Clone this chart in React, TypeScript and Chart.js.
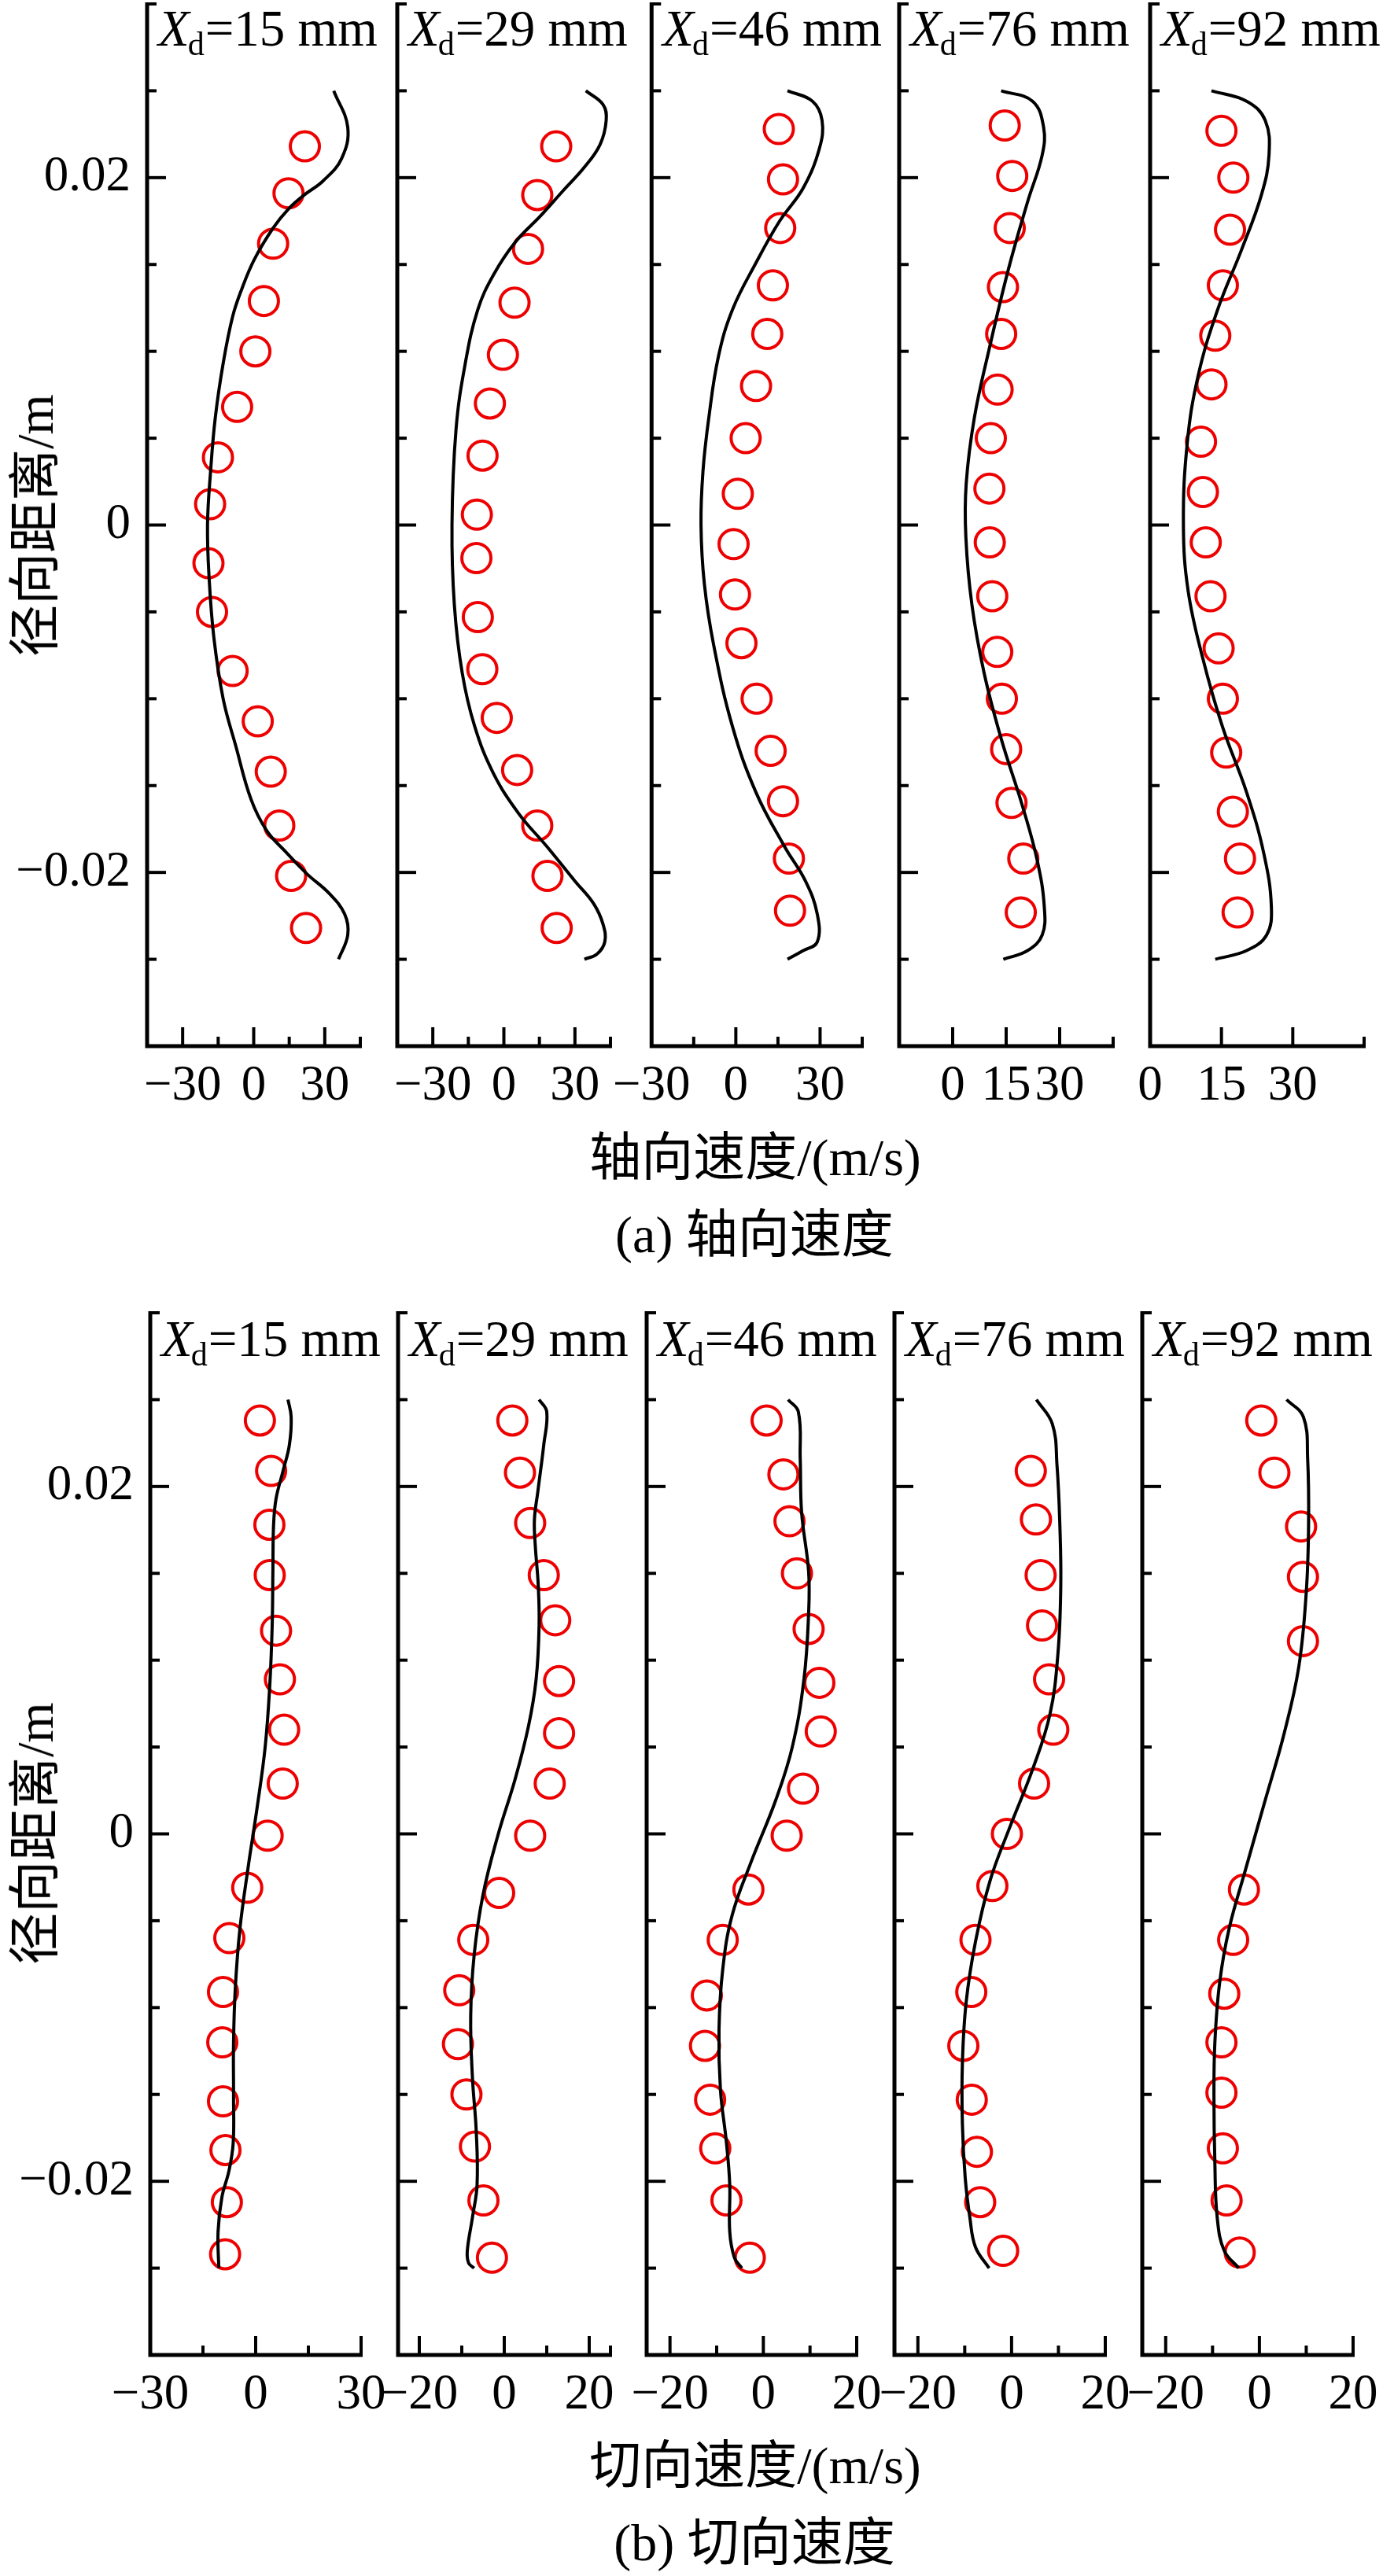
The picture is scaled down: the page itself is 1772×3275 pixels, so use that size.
import React, { useEffect, useRef } from 'react';
import { Chart, registerables } from 'chart.js';

Chart.register(...registerables);

// ---------------- data ----------------
const stations = [15, 29, 46, 76, 92];
const radialRange = [-0.03, 0.03];
const radialStep = 0.005;
const radialLabeled = [-0.02, 0, 0.02];

const axialRanges = [[-45, 45], [-45, 45], [-30, 45], [-15, 45], [0, 45]];
const axialSteps = [15, 15, 15, 15, 15];
const axialLabeled = [[-30, 0, 30], [-30, 0, 30], [-30, 0, 30], [0, 15, 30], [0, 15, 30]];
const tangRanges = [[-30, 30], [-25, 25], [-25, 20], [-25, 20], [-25, 20]];
const tangSteps = [15, 10, 10, 10, 10];
const tangLabeled = [[-30, 0, 30], [-20, 0, 20], [-20, 0, 20], [-20, 0, 20], [-20, 0, 20]];

// (a) axial velocity — experiment (circles)
const axExpY15 = [0.0218, 0.0191, 0.0162, 0.0129, 0.0100, 0.0068, 0.0039, 0.0012, -0.0022, -0.0050, -0.0084, -0.0113, -0.0142, -0.0173, -0.0202, -0.0232];
const axExpV15 = [21.6, 14.7, 8.2, 4.3, 0.7, -7.0, -15.1, -18.4, -19.1, -17.6, -8.9, 1.7, 7.2, 10.8, 15.8, 22.1];
const axExpY29 = [0.0218, 0.0190, 0.0159, 0.0128, 0.0098, 0.0070, 0.0040, 0.0006, -0.0019, -0.0053, -0.0083, -0.0111, -0.0141, -0.0173, -0.0202, -0.0232];
const axExpV29 = [22.1, 14.1, 10.2, 4.5, -0.4, -5.9, -9.0, -11.4, -11.6, -11.0, -9.1, -3.0, 5.6, 14.1, 18.4, 22.3];
const axExpY46 = [0.0228, 0.0199, 0.0171, 0.0138, 0.0110, 0.0080, 0.0050, 0.0018, -0.0011, -0.0040, -0.0068, -0.0100, -0.0130, -0.0159, -0.0192, -0.0222];
const axExpV46 = [15.3, 16.8, 15.8, 13.2, 11.2, 7.2, 3.5, 0.7, -0.8, -0.3, 2.0, 7.4, 12.4, 16.8, 18.9, 19.3];
const axExpY76 = [0.0230, 0.0201, 0.0171, 0.0137, 0.0110, 0.0078, 0.0050, 0.0021, -0.0010, -0.0041, -0.0073, -0.0100, -0.0129, -0.0160, -0.0192, -0.0223];
const axExpV76 = [14.6, 16.7, 16.0, 14.1, 13.6, 12.6, 10.7, 10.3, 10.4, 11.1, 12.5, 13.8, 15.0, 16.5, 19.8, 19.1];
const axExpY92 = [0.0227, 0.0200, 0.0170, 0.0138, 0.0109, 0.0081, 0.0048, 0.0019, -0.0010, -0.0041, -0.0071, -0.0100, -0.0131, -0.0165, -0.0192, -0.0223];
const axExpV92 = [15.0, 17.5, 16.8, 15.3, 13.7, 12.9, 10.7, 11.1, 11.7, 12.7, 14.4, 15.3, 16.0, 17.4, 18.9, 18.4];

// (a) axial velocity — simulation (line)
const axSimY15 = [0.025, 0.0229, 0.0211, 0.0198, 0.0190, 0.0182, 0.0171, 0.0153, 0.0136, 0.0120, 0.0093, 0.0062, 0.0031, 0, -0.0031, -0.0065, -0.0100, -0.0127, -0.0158, -0.0176, -0.0188, -0.0201, -0.0212, -0.0224, -0.0236, -0.025];
const axSimV15 = [33.8, 39.7, 37.1, 29.2, 21.3, 14.7, 8.2, 0.3, -5.0, -8.9, -12.9, -16.2, -18.2, -19.5, -18.8, -16.8, -12.9, -7.6, -1.1, 5.5, 13.4, 22.6, 31.8, 38.4, 39.7, 35.8];
const axSimY29 = [0.025, 0.0242, 0.0233, 0.0219, 0.0206, 0.0192, 0.0178, 0.0163, 0.0144, 0.0124, 0.0093, 0.0055, 0, -0.0046, -0.0085, -0.0116, -0.0143, -0.0166, -0.0185, -0.0205, -0.0218, -0.0230, -0.0240, -0.0247, -0.025];
const axSimV29 = [34.6, 41.9, 43.2, 40.6, 34.0, 24.7, 15.5, 4.9, -4.4, -11.0, -16.3, -20.2, -21.9, -20.9, -17.6, -12.3, -4.4, 6.2, 18.1, 30.0, 37.9, 41.9, 42.6, 39.3, 34.0];
const axSimY46 = [0.025, 0.0244, 0.0233, 0.0217, 0.0194, 0.0175, 0.0151, 0.0124, 0.0097, 0.0062, 0.0031, 0, -0.0034, -0.0069, -0.0116, -0.0154, -0.0185, -0.0205, -0.0224, -0.0240, -0.0245, -0.025];
const axSimV46 = [18.4, 27.3, 30.7, 29.8, 24.0, 15.6, 7.2, -1.2, -6.2, -9.6, -11.7, -12.4, -11.2, -7.9, -1.2, 7.2, 17.3, 24.8, 29.0, 29.0, 24.0, 18.4];
const axSimY76 = [0.025, 0.0244, 0.0229, 0.0213, 0.0186, 0.0147, 0.0101, 0.0062, 0.0024, -0.0007, -0.0046, -0.0085, -0.0123, -0.0162, -0.0193, -0.0220, -0.0236, -0.0245, -0.025];
const axSimV76 = [13.6, 22.4, 25.5, 25.1, 21.0, 15.6, 10.2, 6.1, 3.8, 3.7, 5.4, 8.8, 13.6, 19.6, 23.7, 25.7, 25.1, 21.0, 14.2];
const axSimY92 = [0.025, 0.0244, 0.0233, 0.0213, 0.0190, 0.0159, 0.0124, 0.0086, 0.0047, 0, -0.0038, -0.0077, -0.0116, -0.0154, -0.0189, -0.0220, -0.0236, -0.0245, -0.025];
const axSimV92 = [12.9, 20.3, 24.2, 25.0, 23.4, 19.3, 14.2, 10.1, 7.8, 7.0, 8.0, 11.1, 15.2, 20.3, 23.9, 25.5, 24.5, 20.3, 13.7];

// (b) tangential velocity — experiment (circles)
const tgExpY15 = [0.0238, 0.0209, 0.0178, 0.0149, 0.0117, 0.0089, 0.0060, 0.0029, -0.0001, -0.0031, -0.0060, -0.0091, -0.0120, -0.0154, -0.0182, -0.0212, -0.0242];
const tgExpV15 = [1.2, 4.4, 3.9, 4.0, 5.8, 6.9, 8.1, 7.7, 3.4, -2.4, -7.5, -9.3, -9.5, -9.3, -8.6, -8.2, -8.7];
const tgExpY29 = [0.0238, 0.0208, 0.0179, 0.0149, 0.0123, 0.0088, 0.0058, 0.0029, -0.0001, -0.0034, -0.0061, -0.0090, -0.0121, -0.0150, -0.0180, -0.0211, -0.0244];
const tgExpV29 = [1.9, 3.7, 6.1, 9.3, 12.0, 12.9, 12.9, 10.7, 6.1, -1.2, -7.3, -10.6, -10.9, -8.9, -6.9, -4.9, -2.9];
const tgExpY46 = [0.0238, 0.0207, 0.0180, 0.0150, 0.0118, 0.0087, 0.0059, 0.0026, -0.0001, -0.0032, -0.0061, -0.0093, -0.0122, -0.0153, -0.0181, -0.0211, -0.0244];
const tgExpV46 = [0.7, 4.3, 5.6, 7.2, 9.7, 12.0, 12.3, 8.5, 5.0, -3.2, -8.7, -12.1, -12.5, -11.4, -10.3, -7.9, -2.9];
const tgExpY76 = [0.0209, 0.0181, 0.0149, 0.0120, 0.0089, 0.0060, 0.0029, 0, -0.0030, -0.0061, -0.0091, -0.0122, -0.0153, -0.0183, -0.0212, -0.0240];
const tgExpV76 = [4.1, 5.2, 6.2, 6.5, 8.0, 8.9, 4.8, -1.0, -4.1, -7.7, -8.6, -10.3, -8.5, -7.4, -6.7, -1.8];
const tgExpY92 = [0.0238, 0.0208, 0.0177, 0.0148, 0.0111, -0.0032, -0.0061, -0.0092, -0.0120, -0.0149, -0.0181, -0.0211, -0.0241];
const tgExpV92 = [0.4, 3.2, 8.9, 9.3, 9.3, -3.3, -5.6, -7.5, -8.1, -8.1, -7.8, -7.0, -4.2];

// (b) tangential velocity — simulation (line)
const tgSimY15 = [0.025, 0.024, 0.0224, 0.0209, 0.0193, 0.0178, 0.0151, 0.0120, 0.0085, 0.0050, 0.0015, -0.0020, -0.0055, -0.0089, -0.0120, -0.0151, -0.0178, -0.0194, -0.0209, -0.0229, -0.025];
const tgSimV15 = [9.2, 10.1, 9.6, 7.8, 5.8, 5.1, 4.9, 4.7, 4.0, 2.7, 0.4, -2.2, -4.5, -5.8, -6.3, -6.3, -6.4, -7.6, -9.6, -10.7, -10.5];
const tgSimY29 = [0.025, 0.0243, 0.0224, 0.0197, 0.0181, 0.0166, 0.0143, 0.0120, 0.0089, 0.0062, 0.0031, 0, -0.0035, -0.0070, -0.0105, -0.0140, -0.0171, -0.0202, -0.0221, -0.0240, -0.0247, -0.0250];
const tgSimV29 = [8.2, 10.0, 9.3, 7.9, 7.1, 7.3, 8.0, 8.2, 7.5, 5.7, 2.5, -1.4, -5.0, -7.1, -7.9, -7.5, -6.6, -6.4, -7.5, -8.7, -8.4, -7.1];
const tgSimY46 = [0.025, 0.0243, 0.0216, 0.0185, 0.0151, 0.0127, 0.0089, 0.0050, 0.0019, -0.0016, -0.0047, -0.0078, -0.0113, -0.0147, -0.0178, -0.0202, -0.0229, -0.0244, -0.025];
const tgSimV46 = [5.3, 7.5, 7.9, 8.2, 9.7, 9.7, 8.7, 6.2, 2.6, -2.6, -6.7, -8.7, -9.5, -9.2, -7.9, -7.2, -7.2, -6.2, -4.6];
const tgSimY76 = [0.025, 0.0236, 0.0212, 0.0178, 0.0143, 0.0104, 0.0069, 0.0038, 0.0003, -0.0027, -0.0062, -0.0097, -0.0132, -0.0167, -0.0198, -0.0221, -0.0238, -0.025];
const tgSimV76 = [5.3, 8.7, 9.7, 10.3, 10.5, 9.9, 8.2, 4.6, -0.5, -4.6, -7.7, -9.7, -10.5, -10.5, -9.9, -8.9, -7.7, -4.8];
const tgSimY92 = [0.025, 0.024, 0.0216, 0.0178, 0.0139, 0.0096, 0.0058, 0.0019, -0.0020, -0.0055, -0.0086, -0.0120, -0.0151, -0.0190, -0.0221, -0.0240, -0.025];
const tgSimV92 = [5.8, 9.4, 10.3, 10.5, 10.0, 8.4, 5.3, 1.2, -2.9, -6.5, -8.5, -9.5, -9.7, -9.5, -9.0, -7.5, -4.4];

const axialExp = [[axExpV15, axExpY15], [axExpV29, axExpY29], [axExpV46, axExpY46], [axExpV76, axExpY76], [axExpV92, axExpY92]];
const axialSim = [[axSimV15, axSimY15], [axSimV29, axSimY29], [axSimV46, axSimY46], [axSimV76, axSimY76], [axSimV92, axSimY92]];
const tangExp = [[tgExpV15, tgExpY15], [tgExpV29, tgExpY29], [tgExpV46, tgExpY46], [tgExpV76, tgExpY76], [tgExpV92, tgExpY92]];
const tangSim = [[tgSimV15, tgSimY15], [tgSimV29, tgSimY29], [tgSimV46, tgSimY46], [tgSimV76, tgSimY76], [tgSimV92, tgSimY92]];

// ---------------- style / layout ----------------
const FONT = '"Liberation Serif", "Times New Roman", "Noto Sans CJK SC", serif';
const RED = '#ee0000';
const TICK_FONT = 63;
const PAD_T = 60;
const PAD_R = 70;
const PAD_B = 110;
const PAD_L_FIRST = 180;
const PAD_L = 60;

const ROWS = [
  {
    top: 5, bottom: 1330, titleDy: 53,
    boxes: [[187, 458], [505, 776], [825, 1096], [1143, 1415], [1462, 1734]],
    ranges: axialRanges, steps: axialSteps, labeled: axialLabeled, exp: axialExp, sim: axialSim,
  },
  {
    top: 1669, bottom: 2994, titleDy: 55,
    boxes: [[191, 459], [506, 776], [822, 1089], [1137, 1405], [1452, 1720]],
    ranges: tangRanges, steps: tangSteps, labeled: tangLabeled, exp: tangExp, sim: tangSim,
  },
];

const near = (a: number, b: number) => Math.abs(a - b) < 1e-7;
const isIn = (v: number, list: number[]) => list.some((l) => near(v, l));
const stepTicks = (min: number, max: number, step: number) => {
  const out: number[] = [];
  const i0 = Math.ceil(min / step - 1e-9);
  const i1 = Math.floor(max / step + 1e-9);
  for (let i = i0; i <= i1; i++) out.push(Number((i * step).toFixed(6)));
  return out;
};
const fmtNum = (v: number, digits: number) => {
  if (near(v, 0)) return '0';
  return (v < 0 ? '\u2212' : '') + Math.abs(v).toFixed(digits);
};

type Panel = {
  key: string; station: number; left: number; right: number; top: number; bottom: number;
  padL: number; first: boolean; xr: number[]; step: number; labeled: number[];
  exp: number[][]; sim: number[][]; titleDy: number;
};

const PANELS: Panel[] = [];
ROWS.forEach((row, r) => {
  row.boxes.forEach((b, i) => {
    PANELS.push({
      key: `${r}-${i}`, station: stations[i], left: b[0], right: b[1], top: row.top, bottom: row.bottom,
      padL: i === 0 ? PAD_L_FIRST : PAD_L, first: i === 0, xr: row.ranges[i], step: row.steps[i],
      labeled: row.labeled[i], exp: row.exp[i], sim: row.sim[i], titleDy: row.titleDy,
    });
  });
});

const framePlugin = {
  id: 'frame',
  afterDraw(chart: any, _args: any, opts: any) {
    const ctx = chart.ctx as CanvasRenderingContext2D;
    const { left, right, top, bottom } = chart.chartArea;
    const xs = chart.scales.x;
    const ys = chart.scales.y;
    ctx.save();
    ctx.strokeStyle = '#000';
    ctx.lineWidth = 5;
    ctx.lineJoin = 'miter';
    ctx.lineCap = 'butt';
    ctx.beginPath();
    ctx.moveTo(left, top - 2);
    ctx.lineTo(left, bottom);
    ctx.lineTo(right + 2, bottom);
    ctx.stroke();

    ctx.lineWidth = 4;
    ys.ticks.forEach((t: any) => {
      if (t.value <= ys.min + 1e-9) return;
      const py = ys.getPixelForValue(t.value);
      const len = isIn(t.value, opts.yLabeled) ? 24 : 12;
      ctx.beginPath();
      ctx.moveTo(left, py);
      ctx.lineTo(left + len, py);
      ctx.stroke();
    });
    const xt = xs.ticks.map((t: any) => t.value);
    if (!xt.some((v: number) => near(v, xs.max))) xt.push(xs.max);
    xt.forEach((v: number) => {
      if (v <= xs.min + 1e-9) return;
      const px = xs.getPixelForValue(v);
      const len = isIn(v, opts.xLabeled) ? 24 : 12;
      ctx.beginPath();
      ctx.moveTo(px, bottom);
      ctx.lineTo(px, bottom - len);
      ctx.stroke();
    });

    // panel title: X_d = NN mm
    const x0 = left + 14;
    const yb = top + opts.titleDy;
    ctx.fillStyle = '#000';
    ctx.textAlign = 'left';
    ctx.textBaseline = 'alphabetic';
    ctx.font = `italic 65px ${FONT}`;
    ctx.fillText('X', x0, yb);
    let x = x0 + ctx.measureText('X').width - 2;
    ctx.font = `42px ${FONT}`;
    ctx.fillText('d', x, yb + 12);
    x += ctx.measureText('d').width + 1;
    ctx.font = `65px ${FONT}`;
    ctx.fillText(`=${opts.station} mm`, x, yb);
    ctx.restore();
  },
};

function makeConfig(p: Panel): any {
  const expPts = p.exp[0].map((v, k) => ({ x: v, y: p.exp[1][k] }));
  const simPts = p.sim[0].map((v, k) => ({ x: v, y: p.sim[1][k] }));
  const xTicks = stepTicks(p.xr[0], p.xr[1], p.step);
  const yTicks = stepTicks(radialRange[0], radialRange[1], radialStep);
  return {
    type: 'scatter',
    data: {
      datasets: [
        {
          data: simPts, showLine: true, borderColor: '#000', borderWidth: 4, pointRadius: 0,
          pointHoverRadius: 0, tension: 0.4, fill: false,
        },
        {
          data: expPts, showLine: false, pointRadius: 18.5, pointHoverRadius: 18.5, pointBorderWidth: 4,
          borderWidth: 4, pointBorderColor: RED, borderColor: RED,
          pointBackgroundColor: 'rgba(0,0,0,0)', backgroundColor: 'rgba(0,0,0,0)',
        },
      ],
    },
    options: {
      responsive: false,
      animation: false,
      events: [],
      layout: { padding: { top: PAD_T, right: PAD_R, left: 0, bottom: 0 } },
      plugins: {
        legend: { display: false },
        tooltip: { enabled: false },
        frame: { yLabeled: radialLabeled, xLabeled: p.labeled, station: p.station, titleDy: p.titleDy },
      },
      scales: {
        x: {
          type: 'linear', position: 'bottom', min: p.xr[0], max: p.xr[1],
          afterBuildTicks: (s: any) => { s.ticks = xTicks.map((v) => ({ value: v })); },
          afterFit: (s: any) => { s.height = PAD_B; },
          grid: { display: false, drawTicks: false },
          border: { display: false },
          ticks: {
            autoSkip: false, maxRotation: 0, minRotation: 0, padding: 14, color: '#000',
            font: { family: FONT, size: TICK_FONT },
            callback: (v: number) => (isIn(v, p.labeled) ? fmtNum(v, 0) : ''),
          },
        },
        y: {
          type: 'linear', position: 'left', min: radialRange[0], max: radialRange[1],
          afterBuildTicks: (s: any) => { s.ticks = yTicks.map((v) => ({ value: v })); },
          afterFit: (s: any) => { s.width = p.padL; },
          grid: { display: false, drawTicks: false },
          border: { display: false },
          ticks: {
            autoSkip: false, padding: 21, color: '#000',
            font: { family: FONT, size: TICK_FONT },
            callback: (v: number) => (p.first && isIn(v, radialLabeled) ? fmtNum(v, 2) : ''),
          },
        },
      },
    },
    plugins: [framePlugin],
  };
}

const textStyle = (x: number, y: number, rotate = false): React.CSSProperties => ({
  position: 'absolute', left: x, top: y,
  transform: `translate(-50%, -50%)${rotate ? ' rotate(-90deg)' : ''}`,
  fontSize: 66, lineHeight: 1, whiteSpace: 'nowrap', color: '#000', fontFamily: FONT,
});

export default function App() {
  const refs = useRef<(HTMLCanvasElement | null)[]>([]);
  useEffect(() => {
    const charts: Chart[] = [];
    PANELS.forEach((p, i) => {
      const c = refs.current[i];
      if (!c) return;
      charts.push(new Chart(c, makeConfig(p)));
    });
    return () => charts.forEach((ch) => ch.destroy());
  }, []);

  return (
    <div style={{ position: 'absolute', left: 0, top: 0, width: 1772, height: 3275, background: '#fff', overflow: 'hidden' }}>
      {PANELS.map((p, i) => {
        const cw = p.right - p.left + p.padL + PAD_R;
        const ch = p.bottom - p.top + PAD_T + PAD_B;
        return (
          <canvas
            key={p.key}
            ref={(el) => { refs.current[i] = el; }}
            width={cw}
            height={ch}
            style={{ position: 'absolute', left: p.left - p.padL, top: p.top - PAD_T, width: cw, height: ch }}
          />
        );
      })}
      <div style={textStyle(45, 668, true)}>径向距离/m</div>
      <div style={textStyle(960, 1472)}>轴向速度/(m/s)</div>
      <div style={textStyle(959, 1570)}>(a) 轴向速度</div>
      <div style={textStyle(45, 2331, true)}>径向距离/m</div>
      <div style={textStyle(960, 3135)}>切向速度/(m/s)</div>
      <div style={textStyle(959, 3233)}>(b) 切向速度</div>
    </div>
  );
}
